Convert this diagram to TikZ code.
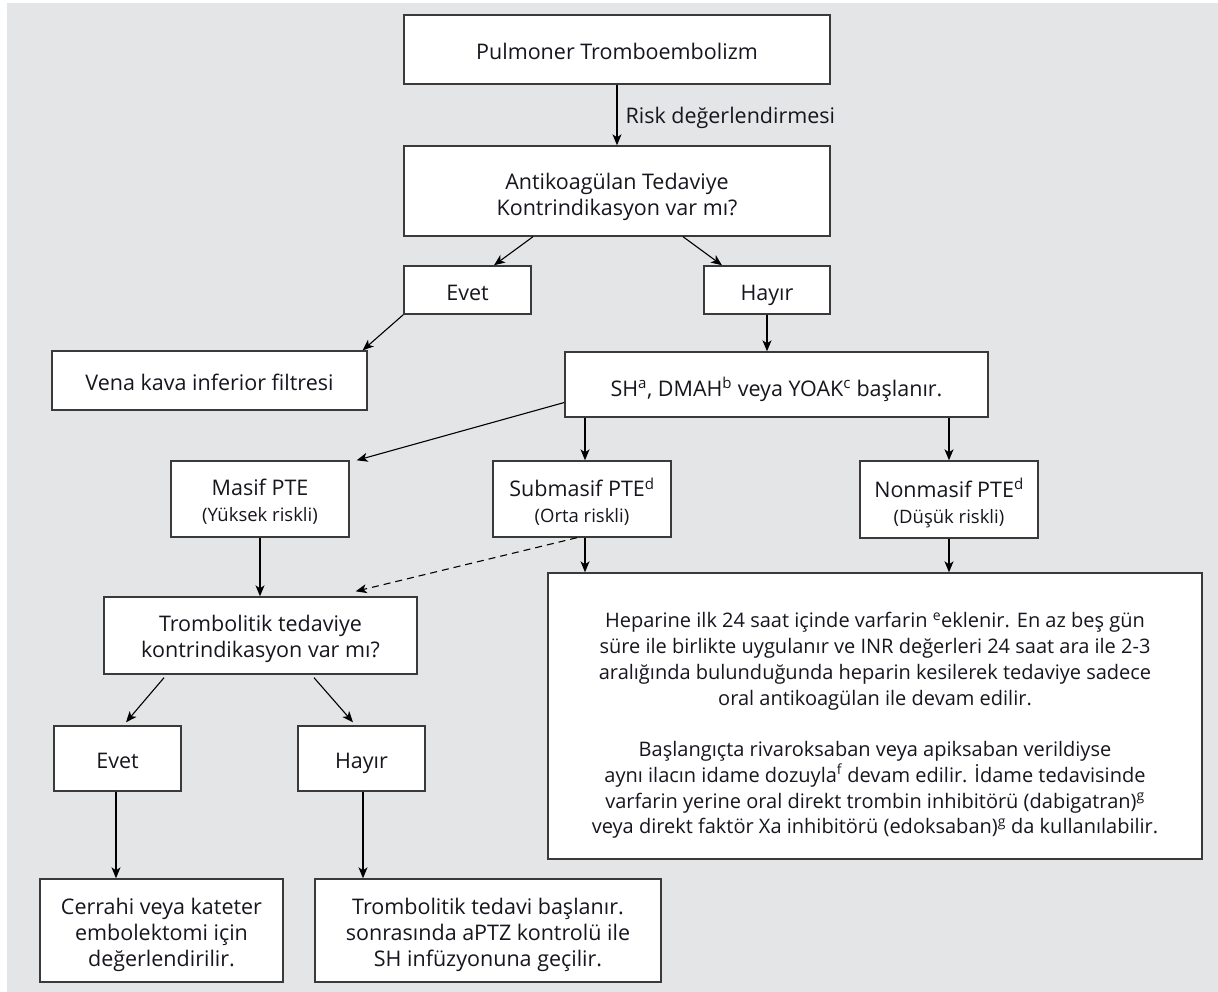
\documentclass[tikz,border=0pt]{standalone}
\usepackage{fontspec}
\setmainfont{Open Sans}
\usetikzlibrary{arrows.meta,calc}
\definecolor{bg}{HTML}{E4E5E7}
\definecolor{ink}{HTML}{16161E}
\definecolor{edge}{HTML}{3A3A3A}
\begin{document}
\begin{tikzpicture}[x=1pt,y=-1pt,
  box/.style={draw=edge, line width=1.4pt, fill=white, inner sep=0pt},
  txt/.style={inner sep=0pt, align=center, text=ink, font=\fontsize{21.5}{26}\selectfont,
    execute at begin node=\strut, execute at end node=\strut},
  txtc/.style={txt, font=\fontsize{21.5}{26}\selectfont},
  bigtext/.style={txt, font=\fontsize{20}{25.75}\selectfont},
  arr/.style={draw=black, line width=1.1pt, -{Stealth[length=11pt,width=9pt,inset=3pt]}},
  dasharr/.style={arr, dash pattern=on 7pt off 5pt}
]
\newcommand{\smalltxt}[1]{{\fontsize{18.5}{26}\selectfont #1}}
\useasboundingbox (0,0) rectangle (1218,992);
\fill[white] (0,0) rectangle (1218,992);
\fill[bg] (7,3) rectangle (1218,992);

% boxes
\node[box, minimum width=426pt, minimum height=69pt] (pte) at (617,49.5) {};
\node[box, minimum width=426pt, minimum height=90pt] (anti) at (617,191) {};
\node[box, minimum width=127pt, minimum height=48pt] (evet1) at (467.5,290) {};
\node[box, minimum width=126pt, minimum height=48pt] (hayir1) at (767,290) {};
\node[box, minimum width=315pt, minimum height=59pt] (vena) at (209.5,380.5) {};
\node[box, minimum width=423pt, minimum height=65pt] (sh) at (776.5,384.5) {};
\node[box, minimum width=178pt, minimum height=76pt] (masif) at (260,499) {};
\node[box, minimum width=178pt, minimum height=76pt] (sub) at (582,499) {};
\node[box, minimum width=178pt, minimum height=77pt] (non) at (949,499.5) {};
\node[box, minimum width=313pt, minimum height=77pt] (trom) at (260.5,635.5) {};
\node[box, minimum width=654pt, minimum height=286pt] (big) at (875,716) {};
\node[box, minimum width=127pt, minimum height=65pt] (evet2) at (117.5,758.5) {};
\node[box, minimum width=127pt, minimum height=65pt] (hayir2) at (361.5,758.5) {};
\node[box, minimum width=243pt, minimum height=103pt] (cer) at (161.5,930.5) {};
\node[box, minimum width=346pt, minimum height=103pt] (tt) at (488,930.5) {};

% texts
\node[txt] (pte-t) at ([yshift=-5pt]pte.center) {Pulmoner Tromboembolizm};
\node[txt] (anti-t) at ([yshift=-7pt]anti.center) {Antikoagülan Tedaviye\\Kontrindikasyon var mı?};
\node[txt] (evet1-t) at ([yshift=-5pt]evet1.center) {Evet};
\node[txt] (hayir1-t) at ([yshift=-5pt]hayir1.center) {Hayır};
\node[txt] (vena-t) at ([yshift=-5pt]vena.center) {Vena kava inferior filtresi};
\node[txt] (sh-t) at ([yshift=-6pt]sh.center) {SH\textsuperscript{a}, DMAH\textsuperscript{b} veya YOAK\textsuperscript{c} başlanır.};
\node[txt] (masif-t) at ([yshift=-5pt]masif.center) {Masif PTE\\\smalltxt{(Yüksek riskli)}};
\node[txt] (sub-t) at ([yshift=-5pt]sub.center) {Submasif PTE\textsuperscript{d}\\\smalltxt{(Orta riskli)}};
\node[txt] (non-t) at ([yshift=-5pt]non.center) {Nonmasif PTE\textsuperscript{d}\\\smalltxt{(Düşük riskli)}};
\node[txtc] (trom-t) at ([yshift=-5pt]trom.center) {Trombolitik tedaviye\\kontrindikasyon var mı?};
\node[bigtext] (big-t) at ([yshift=-11pt]big.center) {Heparine ilk 24 saat içinde varfarin \textsuperscript{e}eklenir. En az beş gün\\süre ile birlikte uygulanır ve INR değerleri 24 saat ara ile 2-3\\aralığında bulunduğunda heparin kesilerek tedaviye sadece\\oral antikoagülan ile devam edilir.\\[25.75pt]Başlangıçta rivaroksaban veya apiksaban verildiyse\\aynı ilacın idame dozuyla\textsuperscript{f} devam edilir. İdame tedavisinde\\varfarin yerine oral direkt trombin inhibitörü (dabigatran)\textsuperscript{g}\\veya direkt faktör Xa inhibitörü (edoksaban)\textsuperscript{g} da kullanılabilir.};
\node[txt] (evet2-t) at ([yshift=-5pt]evet2.center) {Evet};
\node[txt] (hayir2-t) at ([yshift=-5pt]hayir2.center) {Hayır};
\node[txtc] (cer-t) at ([yshift=-6pt]cer.center) {Cerrahi veya kateter\\embolektomi için\\değerlendirilir.};
\node[txtc] (tt-t) at ([yshift=-6pt]tt.center) {Trombolitik tedavi başlanır.\\sonrasında aPTZ kontrolü ile\\SH infüzyonuna geçilir.};

% connectors
\draw[arr] (pte.south) -- node[txt, anchor=west, xshift=8pt, yshift=-3pt] (risk) {Risk değerlendirmesi} (anti.north);
\draw[arr] ([xshift=-84pt]anti.south) -- ([xshift=26.5pt]evet1.north);
\draw[arr] ([xshift=66pt]anti.south) -- ([xshift=-45pt]hayir1.north);
\draw[arr] (evet1.south west) -- ([xshift=-5pt]vena.north east);
\draw[arr] (hayir1.south) -- (hayir1.south |- sh.north);
\draw[arr] ([yshift=-18pt]sh.west) -- ([xshift=7pt]masif.north east);
\draw[arr] ([xshift=3pt]sub.north |- sh.south) -- ([xshift=3pt]sub.north);
\draw[arr] (non.north |- sh.south) -- (non.north);
\draw[arr] (masif.south) -- (masif.south |- trom.north);
\draw[arr] ([xshift=3pt]sub.south) -- ([xshift=3pt]sub.south |- big.north);
\draw[dasharr] ([xshift=-5pt]sub.south) -- ([xshift=-62pt,yshift=5pt]trom.north east);
\draw[arr] (non.south) -- (non.south |- big.north);
\draw[arr] ([xshift=-96.5pt,yshift=-3pt]trom.south) -- ([xshift=8.5pt,yshift=3pt]evet2.north);
\draw[arr] ([xshift=53.5pt,yshift=-3pt]trom.south) -- ([xshift=-8.5pt,yshift=3pt]hayir2.north);
\draw[arr] ([xshift=-1.5pt]evet2.south) -- ([xshift=-1.5pt]evet2.south |- cer.north);
\draw[arr] ([xshift=1.5pt]hayir2.south) -- ([xshift=1.5pt]hayir2.south |- tt.north);
\end{tikzpicture}
\end{document}
